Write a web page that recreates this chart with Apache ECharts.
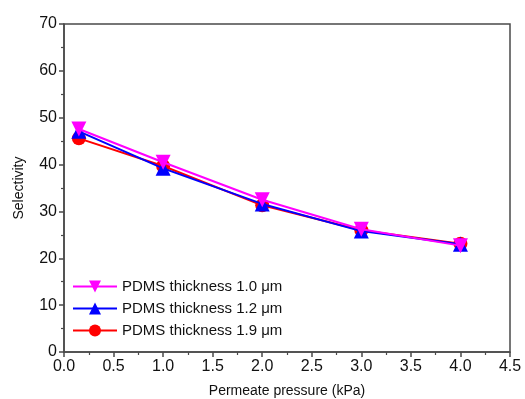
<!DOCTYPE html>
<html>
<head>
<meta charset="utf-8">
<script src="https://cdn.jsdelivr.net/npm/echarts@6/dist/echarts.min.js"></script>
<style>
  html, body { margin: 0; padding: 0; background: #fff; }
  #chart { width: 525px; height: 399px; }
</style>
</head>
<body>
<div id="chart"></div>
<script>
// Permeate pressure (kPa)
const pressure = [0.15, 1.0, 2.0, 3.0, 4.0];
// Selectivity for each PDMS layer thickness
const sel10 = [47.6, 40.5, 32.5, 26.2, 22.7];
const sel12 = [47.1, 39.2, 31.6, 25.8, 23.0];
const sel19 = [45.6, 39.7, 31.3, 26.0, 23.1];
const seriesNames = ['PDMS thickness 1.0 \u03bcm', 'PDMS thickness 1.2 \u03bcm', 'PDMS thickness 1.9 \u03bcm'];

const pair = ys => pressure.map((x, i) => [x, ys[i]]);

const chart = echarts.init(document.getElementById('chart'));
const axisColor = '#4a4a4a';
const font = 'Liberation Sans, Arial, sans-serif';

function lineSeries(name, ys, color, symbol, size, z) {
  return {
    name: name,
    type: 'line',
    data: pair(ys),
    symbol: symbol,
    symbolSize: size,
    z: z,
    lineStyle: { color: color, width: 2 },
    itemStyle: { color: color },
    emphasis: { disabled: true },
    animation: false
  };
}

chart.setOption({
  backgroundColor: '#fff',
  animation: false,
  grid: {
    left: 64, right: 15, top: 24, bottom: 47,
    containLabel: false, outerBoundsMode: 'none',
    show: true, borderColor: axisColor, borderWidth: 1.5, backgroundColor: 'transparent'
  },
  legend: {
    orient: 'vertical',
    left: 67, top: 274,
    itemWidth: 44, itemHeight: 15, itemGap: 7,
    textStyle: { fontFamily: font, fontSize: 15, color: '#111' },
    data: seriesNames
  },
  xAxis: {
    type: 'value',
    min: 0, max: 4.5, interval: 0.5,
    name: 'Permeate pressure (kPa)',
    nameLocation: 'middle', nameGap: 32,
    nameTextStyle: { fontFamily: font, fontSize: 14, color: '#111' },
    axisLine: { show: true, lineStyle: { color: axisColor, width: 1.5 } },
    axisTick: { show: true, inside: false, length: 5, lineStyle: { color: axisColor, width: 1.5 } },
    minorTick: { show: true, splitNumber: 2, length: 3, lineStyle: { color: axisColor, width: 1.2 } },
    splitLine: { show: false },
    axisLabel: {
      fontFamily: font, fontSize: 16, color: '#111', margin: 7,
      formatter: v => v.toFixed(1)
    }
  },
  yAxis: {
    type: 'value',
    min: 0, max: 70, interval: 10,
    name: 'Selectivity',
    nameLocation: 'middle', nameGap: 38,
    nameTextStyle: { fontFamily: font, fontSize: 14, color: '#111' },
    axisLine: { show: true, lineStyle: { color: axisColor, width: 1.5 } },
    axisTick: { show: true, inside: false, length: 5, lineStyle: { color: axisColor, width: 1.5 } },
    minorTick: { show: true, splitNumber: 2, length: 3, lineStyle: { color: axisColor, width: 1.2 } },
    splitLine: { show: false },
    axisLabel: { fontFamily: font, fontSize: 16, color: '#111', margin: 7 }
  },
  series: [
    lineSeries(seriesNames[2], sel19, '#ff0000', 'circle', 14, 2),
    lineSeries(seriesNames[1], sel12, '#0000ff', 'triangle', 15, 3),
    lineSeries(seriesNames[0], sel10, '#ff00ff', 'path://M0,0 L10,0 L5,9 Z', 15, 4)
  ]
});
</script>
</body>
</html>
